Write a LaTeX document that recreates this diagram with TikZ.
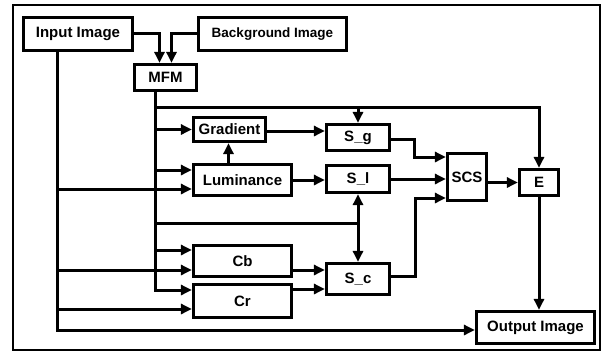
\documentclass[tikz,border=0pt]{standalone}
\usepackage{fontspec}
\setmainfont{Liberation Sans}
\usetikzlibrary{arrows.meta,calc}
\begin{document}
\begin{tikzpicture}[x=1pt,y=-1pt,
  box/.style={draw,line width=3.2pt,inner sep=0pt,font=\fontsize{15}{18}\selectfont\bfseries},
  conn/.style={line width=3pt},
  arr/.style={conn,-{Triangle[length=11pt,width=10pt]}}]
\useasboundingbox (0,0) rectangle (606,354);
\draw[line width=1.4pt] (13,5) rectangle (600,350);
% boxes
\node[box,minimum width=109pt,minimum height=33pt] (inp) at (78,34) {Input Image};
\node[box,minimum width=148pt,minimum height=33pt,font=\fontsize{13.5}{16}\selectfont\bfseries] (bg) at (272.5,34) {Background Image};
\node[box,minimum width=62pt,minimum height=26pt] (mfm) at (165.5,77.5) {MFM};
\node[box,minimum width=72pt,minimum height=24pt] (grad) at (229.5,129.5) {Gradient};
\node[box,minimum width=98pt,minimum height=31pt] (lum) at (242.5,180) {Luminance};
\node[box,minimum width=63pt,minimum height=26pt] (sg) at (358,137.5) {S\_g};
\node[box,minimum width=63pt,minimum height=27pt] (sl) at (358,179) {S\_l};
\node[box,minimum width=39pt,minimum height=47pt] (scs) at (467,177) {SCS};
\node[box,minimum width=39pt,minimum height=26pt] (e) at (539,182.5) {E};
\node[box,minimum width=98pt,minimum height=31pt] (cb) at (242.5,261) {Cb};
\node[box,minimum width=98pt,minimum height=33pt] (cr) at (242.5,301) {Cr};
\node[box,minimum width=63pt,minimum height=31pt] (sc) at (358,279) {S\_c};
\node[box,minimum width=118pt,minimum height=32pt] (out) at (535.5,327.5) {Output Image};
% helper coordinates
\coordinate (T) at ([xshift=-10.5pt]mfm.south);
\coordinate (Ttop) at ([xshift=-10.5pt,yshift=-15pt]mfm.south);
\coordinate (I) at ([xshift=-21pt]inp.south);
\coordinate (lumU) at ([yshift=10pt]lum.west);
\coordinate (lumL) at ([yshift=-9pt]lum.west);
\coordinate (cbU) at ([yshift=11pt]cb.west);
\coordinate (cbL) at ([yshift=-9pt]cb.west);
\coordinate (crU) at ([yshift=11pt]cr.west);
\coordinate (crL) at ([yshift=-8pt]cr.west);
\coordinate (outL) at ([yshift=-2.5pt]out.west);
\coordinate (J) at ($(sl.south)!0.44!(sc.north)$);
\coordinate (gE) at ([yshift=-1.5pt]grad.east);
\coordinate (lN) at ([xshift=-14pt]lum.north);
\coordinate (sgE) at ([yshift=-2pt]sg.east);
\coordinate (scsU) at ([yshift=20pt]scs.west);
\coordinate (scsL) at ([yshift=-21pt]scs.west);
\coordinate (scE) at ([yshift=3pt]sc.east);
\coordinate (cbE) at ([yshift=-9pt]cb.east);
\coordinate (crE) at ([yshift=12pt]cr.east);
% inputs to MFM
\draw[arr] ([yshift=1pt]inp.east) -| ([xshift=-6pt]mfm.north);
\draw[arr] ([yshift=1pt]bg.west) -| ([xshift=6pt]mfm.north);
% MFM trunk
\draw[arr] (T) |- (crU);
\draw[arr] (Ttop) -| (e.north);
\draw[arr] (Ttop -| sg.north) -- (sg.north);
\draw[arr] (T |- grad.west) -- (grad.west);
\draw[arr] (T |- lumU) -- (lumU);
\draw[arr] (T |- cbU) -- (cbU);
\draw[conn] (T |- J) -- (J);
\draw[arr] (J) -- (sl.south);
\draw[arr] (J) -- (sc.north);
% input trunk
\draw[arr] (I) |- (outL);
\draw[arr] (I |- lumL) -- (lumL);
\draw[arr] (I |- cbL) -- (cbL);
\draw[arr] (I |- crL) -- (crL);
% internal
\draw[arr] (gE) -- (gE -| sg.west);
\draw[arr] (lN) -- (lN |- grad.south);
\draw[arr] (lum.east) -- (lum.east -| sl.west);
\draw[arr] (sgE) -- ++(23,0) |- (scsU);
\draw[arr] (sl.east) -- (sl.east -| scs.west);
\draw[arr] (scE) -- ++(24,0) |- (scsL);
\draw[arr] (cbE) -- (cbE -| sc.west);
\draw[arr] (crE) -- (crE -| sc.west);
\draw[arr] (scs.east |- e.west) -- (e.west);
\draw[arr] (e.south) -- (e.south |- out.north);
\end{tikzpicture}
\end{document}
